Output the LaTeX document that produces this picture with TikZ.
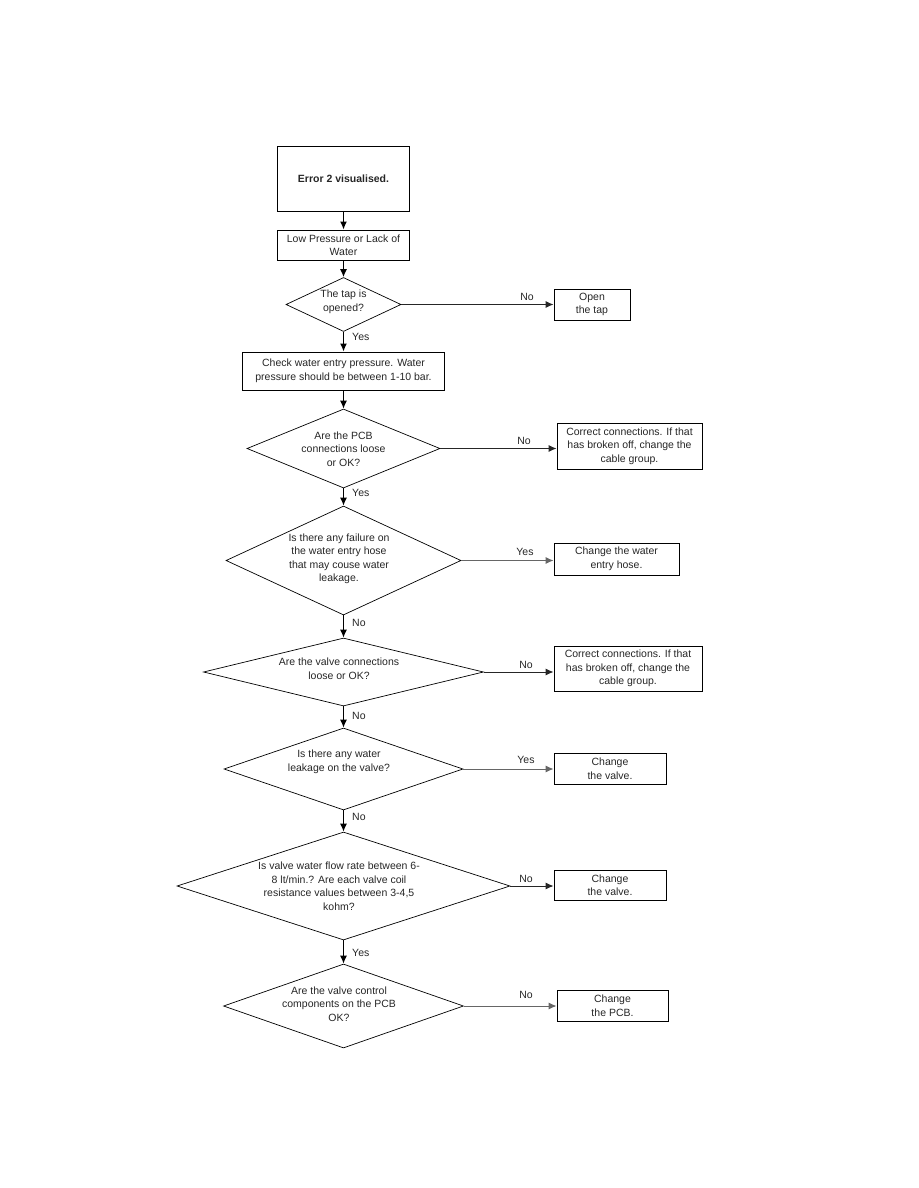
\documentclass[tikz,border=0pt]{standalone}
\usepackage{fontspec}
\setmainfont{Liberation Sans}
\usetikzlibrary{shapes.geometric,arrows.meta}
\tikzset{
  every node/.style={font=\fontsize{10.5}{13.5}\selectfont, text=black!85},
  boxnode/.style={draw=black, line width=0.9pt, inner sep=0pt, align=center},
  dianode/.style={diamond, draw=black, line width=0.7pt, inner sep=0pt},
  dtext/.style={align=center, inner sep=0pt},
  varrow/.style={draw=black, line width=1.3pt, -{Latex[length=8pt,width=7pt]}},
  harrow/.style={draw=black!85, line width=0.9pt, -{Latex[length=8pt,width=7pt]}},
  lbl/.style={inner sep=0pt}
}
\begin{document}
\begin{tikzpicture}[x=1pt,y=-1pt]
\useasboundingbox (0,0) rectangle (918,1188);
\def\cx{343.5}
% main column
\node[boxnode, minimum width=132, minimum height=65] (b1) at (\cx,178.5) {\bfseries Error 2 visualised.};
\node[boxnode, minimum width=132, minimum height=30] (b2) at (\cx,245) {Low Pressure or Lack of\\Water};
\node[dianode, minimum width=115, minimum height=54] (d1) at (\cx,304.5) {};
\node[dtext] (d1t) at (\cx,302) {The tap is\\opened?};
\node[boxnode, minimum width=202, minimum height=38] (b3) at (\cx,371) {Check water entry pressure. Water\\pressure should be between 1-10 bar.};
\node[dianode, minimum width=193, minimum height=79] (d2) at (\cx,448.5) {};
\node[dtext] (d2t) at (\cx,449) {Are the PCB\\connections loose\\or OK?};
\node[dianode, minimum width=235, minimum height=109] (d3) at (\cx,560.5) {};
\node[dtext] (d3t) at (339,559) {Is there any failure on\\the water entry hose\\that may couse water\\leakage.};
\node[dianode, minimum width=280, minimum height=68] (d4) at (\cx,672) {};
\node[dtext] (d4t) at (339,668.5) {Are the valve connections\\loose or OK?};
\node[dianode, minimum width=239, minimum height=82] (d5) at (\cx,769) {};
\node[dtext] (d5t) at (339,762) {Is there any water\\leakage on the valve?};
\node[dianode, minimum width=333, minimum height=108] (d6) at (\cx,886) {};
\node[dtext] (d6t) at (339,886) {Is valve water flow rate between 6-\\8 lt/min.? Are each valve coil\\resistance values between 3-4,5\\kohm?};
\node[dianode, minimum width=240, minimum height=84] (d7) at (\cx,1006) {};
\node[dtext] (d7t) at (339,1004) {Are the valve control\\components on the PCB\\OK?};
% right column
\node[boxnode, minimum width=76, minimum height=31] (r1) at (592,304.5) {Open\\the tap};
\node[boxnode, minimum width=145, minimum height=46] (r2) at (629.5,446) {Correct connections. If that\\has broken off, change the\\cable group.};
\node[boxnode, minimum width=125, minimum height=32] (r3) at (616.5,559) {Change the water\\entry hose.};
\node[boxnode, minimum width=148, minimum height=45] (r4) at (628,668.5) {Correct connections. If that\\has broken off, change the\\cable group.};
\node[boxnode, minimum width=112, minimum height=31] (r5) at (610,768.5) {Change\\the valve.};
\node[boxnode, minimum width=112, minimum height=30] (r6) at (610,885) {Change\\the valve.};
\node[boxnode, minimum width=111, minimum height=31] (r7) at (612.5,1005.5) {Change\\the PCB.};
% vertical connectors
\draw[varrow] (b1.south) -- (b2.north);
\draw[varrow] (b2.south) -- (d1.north);
\draw[varrow] (d1.south) -- (b3.north);
\draw[varrow] (b3.south) -- (d2.north);
\draw[varrow] (d2.south) -- (d3.north);
\draw[varrow] (d3.south) -- (d4.north);
\draw[varrow] (d4.south) -- (d5.north);
\draw[varrow] (d5.south) -- (d6.north);
\draw[varrow] (d6.south) -- (d7.north);
% horizontal connectors
\draw[harrow] (d1.east) -- (d1.east -| r1.west);
\draw[harrow] (d2.east) -- (d2.east -| r2.west);
\draw[harrow, draw=black!60] (d3.east) -- (d3.east -| r3.west);
\draw[harrow] (d4.east) -- (d4.east -| r4.west);
\draw[harrow, draw=black!60] (d5.east) -- (d5.east -| r5.west);
\draw[harrow] (d6.east) -- (d6.east -| r6.west);
\draw[harrow, draw=black!60] (d7.east) -- (d7.east -| r7.west);
% labels on vertical connectors
\node[lbl, anchor=west] (y1) at (352,337) {Yes};
\node[lbl, anchor=west] (y2) at (352,493) {Yes};
\node[lbl, anchor=west] (n3) at (352,623) {No};
\node[lbl, anchor=west] (n4) at (352,716) {No};
\node[lbl, anchor=west] (n5) at (352,817) {No};
\node[lbl, anchor=west] (y6) at (352,953) {Yes};
% labels on horizontal connectors
\node[lbl] (h1) at (527,297) {No};
\node[lbl] (h2) at (524,441) {No};
\node[lbl] (h3) at (525,552) {Yes};
\node[lbl] (h4) at (526,665) {No};
\node[lbl] (h5) at (526,760) {Yes};
\node[lbl] (h6) at (526,879) {No};
\node[lbl] (h7) at (526,995) {No};
\end{tikzpicture}
\end{document}
